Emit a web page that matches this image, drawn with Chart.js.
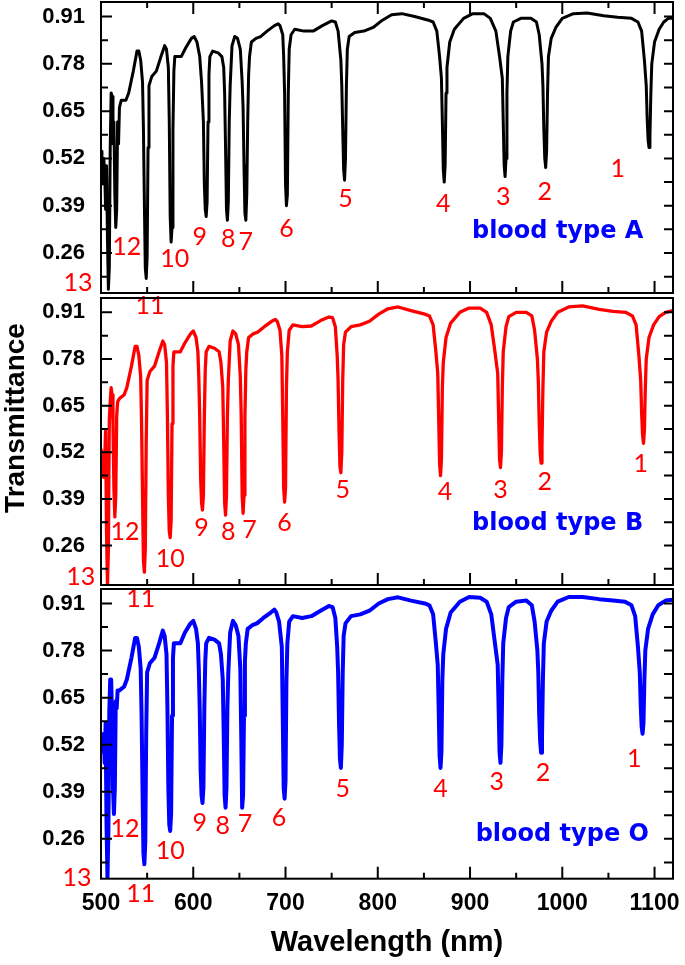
<!DOCTYPE html>
<html lang="en">
<head>
    <meta charset="UTF-8">
    <title>Transmittance of blood types A, B and O</title>
    <script src="https://cdn.jsdelivr.net/npm/chart.js"></script>
    <style>
        body { margin: 0; background: #fff; }
        #wrap { position: relative; width: 685px; height: 965px; }
        #wrap canvas { position: absolute; left: 0; top: 0; }
    </style>
</head>
<body>
<div id="wrap">
    <canvas id="chartA" width="685" height="965"></canvas>
    <canvas id="chartB" width="685" height="965"></canvas>
    <canvas id="chartO" width="685" height="965"></canvas>
</div>

<script>
// x axis
const xMajor = [500, 600, 700, 800, 900, 1000, 1100];
const xMinor = [550, 650, 750, 850, 950, 1050];
// y axis
const yMajor = [0.26, 0.39, 0.52, 0.65, 0.78, 0.91];
const yMinor = [0.195, 0.325, 0.455, 0.585, 0.715, 0.845];

// blood type A (black), one line per dip so both arrays stay in step
const wavelengthA = [
    500,501,502,503,504,505,506,507,508,509,510,511,512,513,514,515,516,517,518,519,520,522,527,530,535,539,541,543,545,
    546,547,548,549,550,551,552,555,560,565,569,571,573,
    574,575,576,577,578,579,580,583,587,592,598,601,604,607,609,
    611,612,613,614,615,616,617,618,621,627,631,633,
    634,635,636,637,638,639,640,642,645,648,651,653,
    654,655,656,657,658,659,660,661,663,668,673,680,688,692,694,697,698,
    699,700,701,702,703,704,706,710,720,730,740,750,754,757,760,
    761,762,763,764,765,766,767,769,775,785,795,805,815,826,840,855,860,864,867,869,
    870,871,872,873,874,875,878,883,893,903,915,922,928,932,935,
    936,937,938,939,940,941,944,947,955,966,972,975,978,979,
    980,981,982,983,984,985,988,993,1000,1012,1027,1045,1060,1075,1082,1086,1089,1091,
    1092,1093,1094,1095,1096,1097,1100,1105,1110,1115,1120];
const transA = [
    0.54,0.50,0.45,0.52,0.48,0.38,0.50,0.30,0.16,0.22,0.55,0.70,0.69,0.56,0.62,0.42,0.33,0.38,0.62,0.56,0.66,0.68,0.68,0.70,0.76,0.815,0.815,0.79,0.73,
    0.60,0.40,0.22,0.19,0.25,0.55,0.72,0.745,0.76,0.80,0.83,0.82,0.77,
    0.62,0.36,0.29,0.33,0.60,0.76,0.80,0.80,0.80,0.825,0.85,0.855,0.84,0.80,0.73,
    0.62,0.45,0.38,0.36,0.40,0.62,0.75,0.80,0.815,0.81,0.80,0.77,
    0.70,0.55,0.38,0.35,0.40,0.62,0.72,0.83,0.855,0.85,0.82,0.73,
    0.66,0.50,0.37,0.35,0.42,0.62,0.75,0.80,0.84,0.85,0.855,0.87,0.885,0.89,0.885,0.86,0.80,
    0.70,0.45,0.39,0.42,0.70,0.82,0.86,0.875,0.87,0.87,0.885,0.898,0.895,0.87,0.79,
    0.72,0.60,0.49,0.46,0.52,0.72,0.82,0.855,0.866,0.87,0.88,0.90,0.915,0.918,0.91,0.90,0.895,0.87,0.80,0.74,
    0.62,0.49,0.455,0.50,0.70,0.77,0.84,0.875,0.905,0.918,0.918,0.905,0.87,0.80,0.74,
    0.62,0.50,0.47,0.52,0.70,0.80,0.87,0.895,0.905,0.905,0.895,0.86,0.78,0.72,
    0.60,0.52,0.495,0.54,0.70,0.80,0.85,0.88,0.905,0.918,0.92,0.912,0.908,0.905,0.895,0.87,0.79,0.72,
    0.63,0.57,0.55,0.58,0.70,0.78,0.84,0.875,0.895,0.905,0.905];

// blood type B (red)
const wavelengthB = [
    500,501,502,503,504,505,506,507,508,509,510,511,512,513,514,515,516,517,518,520,525,528,533,537,539,541,543,
    544,545,546,547,548,549,550,553,558,563,567,569,571,
    572,573,574,575,576,577,578,579,582,586,591,597,600,603,605,606,
    607,608,609,610,611,612,613,614,617,623,628,630,
    632,633,634,635,636,637,638,640,643,646,649,651,
    652,653,654,655,656,657,658,660,665,670,677,685,689,691,694,696,
    697,698,699,700,701,702,704,708,718,728,738,747,751,754,756,
    757,758,759,760,761,762,763,765,771,781,791,801,811,822,836,851,856,860,863,865,
    866,867,868,869,870,871,874,879,889,899,911,918,923,927,930,
    931,932,933,934,935,936,939,942,950,961,967,970,973,974,
    975,976,977,978,979,980,983,988,995,1007,1022,1040,1055,1069,1076,1080,1083,1085,
    1086,1087,1088,1089,1090,1091,1094,1099,1105,1112,1120];
const transB = [
    0.53,0.53,0.50,0.45,0.50,0.58,0.30,0.15,0.25,0.61,0.66,0.70,0.68,0.60,0.42,0.34,0.40,0.62,0.66,0.67,0.68,0.70,0.76,0.815,0.815,0.79,0.73,
    0.60,0.40,0.22,0.186,0.25,0.55,0.72,0.745,0.76,0.80,0.83,0.82,0.77,
    0.62,0.40,0.30,0.282,0.33,0.60,0.76,0.80,0.80,0.80,0.825,0.85,0.858,0.84,0.80,0.73,
    0.62,0.45,0.38,0.359,0.40,0.62,0.75,0.80,0.815,0.81,0.80,0.77,
    0.70,0.55,0.38,0.345,0.40,0.62,0.72,0.83,0.858,0.85,0.82,0.73,
    0.62,0.40,0.35,0.40,0.62,0.75,0.80,0.84,0.85,0.855,0.87,0.885,0.89,0.885,0.86,0.79,
    0.62,0.42,0.381,0.42,0.70,0.80,0.86,0.875,0.87,0.872,0.887,0.897,0.895,0.87,0.79,
    0.72,0.58,0.48,0.463,0.52,0.72,0.82,0.855,0.87,0.875,0.885,0.905,0.92,0.925,0.915,0.905,0.90,0.875,0.80,0.74,
    0.62,0.49,0.455,0.50,0.70,0.77,0.84,0.88,0.91,0.922,0.922,0.91,0.875,0.80,0.74,
    0.62,0.50,0.477,0.52,0.70,0.80,0.87,0.898,0.91,0.91,0.90,0.86,0.78,0.72,
    0.60,0.52,0.49,0.54,0.70,0.80,0.855,0.885,0.91,0.925,0.928,0.918,0.913,0.91,0.90,0.875,0.79,0.72,
    0.63,0.57,0.545,0.58,0.70,0.78,0.84,0.875,0.898,0.91,0.915];

// blood type O (blue)
const wavelengthO = [
    500,501,502,503,504,505,506,507,508,509,510,511,512,513,514,515,516,517,518,520,525,528,533,537,539,541,543,
    544,545,546,547,548,549,550,553,558,563,567,569,571,
    572,573,574,575,576,577,578,579,582,586,591,597,600,603,605,606,
    607,608,609,610,611,612,613,614,617,623,628,630,
    632,633,634,635,636,637,638,640,643,646,649,651,
    652,653,654,655,656,657,659,664,669,676,684,688,690,693,696,
    697,698,699,700,701,702,704,708,718,728,738,747,751,754,756,
    757,758,759,760,761,762,763,765,771,781,791,801,811,822,836,851,856,860,863,865,
    866,867,868,869,870,871,874,879,889,899,911,918,923,927,930,
    931,932,933,934,935,936,939,942,950,961,967,970,973,974,
    975,976,977,978,979,980,983,988,995,1007,1022,1040,1055,1068,1075,1079,1082,1084,
    1085,1086,1087,1088,1089,1090,1093,1098,1104,1112,1120];
const transO = [
    0.54,0.52,0.50,0.55,0.47,0.58,0.30,0.15,0.28,0.61,0.70,0.70,0.60,0.40,0.329,0.40,0.64,0.62,0.67,0.67,0.68,0.70,0.76,0.815,0.815,0.79,0.73,
    0.60,0.40,0.22,0.19,0.25,0.55,0.72,0.745,0.76,0.80,0.835,0.82,0.77,
    0.62,0.40,0.30,0.282,0.33,0.60,0.76,0.80,0.80,0.80,0.83,0.855,0.862,0.84,0.80,0.73,
    0.62,0.45,0.38,0.359,0.40,0.62,0.75,0.80,0.815,0.81,0.80,0.77,
    0.70,0.55,0.38,0.346,0.40,0.62,0.72,0.83,0.862,0.85,0.82,0.73,
    0.55,0.346,0.38,0.60,0.75,0.80,0.84,0.85,0.855,0.87,0.885,0.893,0.885,0.86,0.79,
    0.60,0.40,0.371,0.42,0.70,0.80,0.86,0.875,0.87,0.875,0.89,0.903,0.90,0.87,0.79,
    0.72,0.58,0.48,0.456,0.52,0.72,0.82,0.855,0.875,0.88,0.89,0.91,0.922,0.927,0.918,0.91,0.905,0.88,0.80,0.74,
    0.62,0.49,0.456,0.50,0.70,0.77,0.84,0.885,0.915,0.928,0.926,0.915,0.88,0.80,0.74,
    0.62,0.50,0.47,0.52,0.70,0.80,0.87,0.90,0.915,0.918,0.905,0.86,0.78,0.72,
    0.60,0.53,0.498,0.54,0.70,0.80,0.86,0.89,0.915,0.928,0.928,0.922,0.918,0.915,0.905,0.875,0.79,0.72,
    0.63,0.57,0.55,0.58,0.70,0.78,0.84,0.88,0.905,0.918,0.92];

// peak numbers and where they sit (nm, transmittance)
const peakNames = ['1','2','3','4','5','6','7','8','9','10','11','12','13'];
const peakXA = [1060, 981, 936, 871, 765, 701, 657, 638, 607, 580, 553, 528, 475];
const peakYA = [0.49, 0.427, 0.414, 0.395, 0.409, 0.327, 0.291, 0.30, 0.305, 0.245, 0.114, 0.278, 0.177];
const peakXB = [1085, 981, 933, 873, 762, 699, 661, 638, 609, 575, 543, 526, 478];
const peakYB = [0.487, 0.436, 0.415, 0.409, 0.414, 0.322, 0.304, 0.299, 0.308, 0.222, 0.11, 0.299, 0.172];
const peakXO = [1078, 979, 929, 868, 762, 693, 656, 632, 607, 575, 543, 526, 474];
const peakYO = [0.48, 0.443, 0.416, 0.397, 0.397, 0.319, 0.30, 0.296, 0.305, 0.227, 0.108, 0.287, 0.152];

const typeNames = ['blood type A', 'blood type B', 'blood type O'];
const typeX = [995, 995, 1000];
const typeY = [0.318, 0.322, 0.272];

Chart.defaults.color = '#000';
const tickFont = 'Liberation Sans, Arial, sans-serif';

// frame, inward ticks, peak numbers and the sample name
const framePlugin = {
    id: 'frame',
    afterDatasetsDraw(chart, args, opts) {
        const ctx = chart.ctx;
        const a = chart.chartArea;
        const x = chart.scales.x, y = chart.scales.y;
        ctx.save();
        ctx.strokeStyle = '#000';
        ctx.lineWidth = 2;
        ctx.strokeRect(a.left, a.top, a.right - a.left, a.bottom - a.top);
        ctx.beginPath();
        xMajor.concat(xMinor).forEach(v => {
            const px = x.getPixelForValue(v);
            const len = xMajor.includes(v) ? 12 : 6;
            ctx.moveTo(px, a.bottom);
            ctx.lineTo(px, a.bottom - len);
            if (opts.topTicks) {
                ctx.moveTo(px, a.top);
                ctx.lineTo(px, a.top + len);
            }
        });
        yMajor.concat(yMinor).forEach(v => {
            const py = y.getPixelForValue(v);
            const len = yMajor.includes(v) ? 11 : 7;
            ctx.moveTo(a.left, py);
            ctx.lineTo(a.left + len, py);
            ctx.moveTo(a.right, py);
            ctx.lineTo(a.right - 9, py);
        });
        ctx.stroke();

        ctx.textAlign = 'center';
        ctx.textBaseline = 'middle';
        ctx.fillStyle = '#ff0000';
        ctx.font = '25px Lato, sans-serif';
        opts.peakX.forEach((v, i) => {
            ctx.fillText(peakNames[i], x.getPixelForValue(v), y.getPixelForValue(opts.peakY[i]));
        });

        ctx.fillStyle = '#0000ff';
        ctx.font = 'bold 24px "DejaVu Sans", sans-serif';
        ctx.fillText(opts.typeName, x.getPixelForValue(opts.typeX), y.getPixelForValue(opts.typeY));

        if (opts.yTitle) {
            ctx.fillStyle = '#000';
            ctx.font = 'bold 28px ' + tickFont;
            ctx.translate(16, 418);
            ctx.rotate(-Math.PI / 2);
            ctx.fillText(opts.yTitle, 0, 0);
        }
        ctx.restore();
    }
};

function makePanel(id, wl, tr, color, lineWidth, pad, showX, extra) {
    return new Chart(document.getElementById(id), {
        type: 'line',
        data: {
            datasets: [{
                data: wl.map((w, i) => ({ x: w, y: tr[i] })),
                borderColor: color,
                borderWidth: lineWidth,
                borderJoinStyle: 'round',
                pointRadius: 0,
                tension: 0
            }]
        },
        options: {
            responsive: false,
            animation: false,
            layout: { autoPadding: false, padding: pad },
            plugins: {
                legend: { display: false },
                tooltip: { enabled: false },
                frame: extra
            },
            scales: {
                x: {
                    type: 'linear',
                    display: showX,
                    min: 500,
                    max: 1120,
                    afterBuildTicks: s => { s.ticks = xMajor.concat([1120]).map(v => ({ value: v })); },
                    afterFit: s => { s.paddingLeft = 0; s.paddingRight = 0; },
                    grid: { display: false, drawTicks: false },
                    border: { display: false },
                    ticks: {
                        autoSkip: false,
                        maxRotation: 0,
                        padding: 12,
                        font: { family: tickFont, size: 23, weight: 'bold', lineHeight: 1.1 },
                        callback: v => xMajor.includes(v) ? String(v) : ''
                    },
                    title: {
                        display: showX,
                        text: 'Wavelength (nm)',
                        padding: { top: 0, bottom: 0 },
                        font: { family: tickFont, size: 29, weight: 'bold', lineHeight: 1.0 }
                    }
                },
                y: {
                    min: 0.15,
                    max: 0.95,
                    afterFit: s => { s.width = 101; s.paddingTop = 0; s.paddingBottom = 0; },
                    afterBuildTicks: s => {
                        s.ticks = yMajor.concat(yMinor).sort((p, q) => p - q).map(v => ({ value: v }));
                    },
                    grid: { display: false, drawTicks: false },
                    border: { display: false },
                    ticks: {
                        padding: 16,
                        autoSkip: false,
                        font: { family: tickFont, size: 22, weight: 'bold' },
                        callback: v => yMajor.includes(v) ? v.toFixed(2) : ''
                    }
                }
            }
        },
        plugins: [framePlugin]
    });
}

makePanel('chartA', wavelengthA, transA, '#000000', 3,
    { left: 0, right: 12, top: 2, bottom: 672 }, false,
    { peakX: peakXA, peakY: peakYA, typeName: typeNames[0], typeX: typeX[0], typeY: typeY[0], topTicks: true });

makePanel('chartB', wavelengthB, transB, '#ff0000', 3.3,
    { left: 0, right: 12, top: 298, bottom: 380 }, false,
    { peakX: peakXB, peakY: peakYB, typeName: typeNames[1], typeX: typeX[1], typeY: typeY[1], yTitle: 'Transmittance' });

makePanel('chartO', wavelengthO, transO, '#0000ff', 4,
    { left: 0, right: 12, top: 589, bottom: 8 }, true,
    { peakX: peakXO, peakY: peakYO, typeName: typeNames[2], typeX: typeX[2], typeY: typeY[2] });
</script>
</body>
</html>
